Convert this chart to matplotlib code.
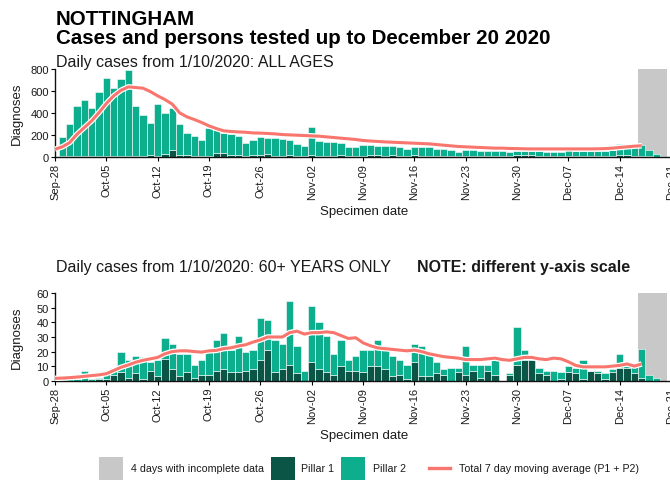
import matplotlib
matplotlib.use("Agg")
import matplotlib.pyplot as plt
import matplotlib.patheffects as pe
from matplotlib.patches import Rectangle
from matplotlib.lines import Line2D
import numpy as np

plt.rcParams['font.family'] = ['Liberation Sans', 'DejaVu Sans']

# ---- data: day index 0 = Sep-28; bars run Sep-29 .. Dec-20 ----
tick_days = [0, 7, 14, 21, 28, 35, 42, 49, 56, 63, 70, 77, 84]
tick_labels = ["Sep-28", "Oct-05", "Oct-12", "Oct-19", "Oct-26", "Nov-02", "Nov-09",
               "Nov-16", "Nov-23", "Nov-30", "Dec-07", "Dec-14", "Dec-21"]

# All ages
pillar1_all = [4, 5, 6, 6, 5, 7, 8, 9, 10, 10, 9, 8, 12, 10, 22, 62, 12, 12, 8, 9,
               10, 38, 32, 12, 12, 10, 12, 18, 22, 10, 10, 14, 8, 4, 16, 10, 9, 7, 12, 9,
               9, 8, 12, 12, 10, 18, 6, 3, 15, 5, 5, 7, 6, 3, 8, 6, 9, 4, 9, 6,
               3, 6, 13, 16, 16, 7, 6, 3, 3, 8, 7, 3, 9, 7, 3, 8, 11, 11, 7, 4,
               2, 1, 0]
pillar2_all = [174, 291, 461, 515, 443, 581, 708, 622, 702, 779, 451, 374, 293, 475, 378, 386,
               290, 208, 182, 146, 256, 210, 185, 199, 181, 116, 138, 164, 153, 159, 147, 136,
               112, 92, 256, 130, 123, 125, 114, 83, 81, 102, 92, 86, 86, 78, 80, 65,
               73, 81, 81, 67, 62, 59, 38, 56, 49, 50, 45, 44, 45, 38, 37, 34,
               34, 43, 40, 43, 43, 82, 43, 47, 45, 47, 53, 52, 109, 107, 81, 101,
               60, 21, 5]
avg7_all = [68, 90, 129, 205, 266, 327, 403, 485, 555, 606, 637, 631, 625, 594, 555, 521,
            479, 400, 363, 339, 312, 281, 257, 236, 230, 226, 223, 217, 215, 212, 208, 202,
            199, 196, 193, 190, 187, 181, 175, 169, 163, 157, 148, 143, 139, 135, 132, 129,
            126, 123, 120, 117, 111, 105, 99, 93, 90, 87, 84, 81, 78, 78, 75, 74,
            72, 71, 71, 71, 71, 71, 71, 71, 71, 71, 72, 74, 78, 84, 90, 96, 100]

# 60+ years only
pillar1_60 = [0, 0, 0, 0, 0, 1, 1, 4, 6, 2, 5, 1, 7, 3, 15, 8, 3, 6, 2, 4,
              4, 7, 8, 6, 6, 7, 8, 14, 21, 6, 8, 11, 5, 0, 13, 8, 6, 4, 10, 7,
              7, 6, 10, 10, 8, 3, 4, 1, 13, 3, 3, 5, 4, 0, 6, 4, 7, 2, 7, 4,
              0, 4, 11, 14, 14, 5, 4, 0, 1, 6, 5, 1, 7, 5, 1, 6, 9, 9, 5, 2,
              0, 0, 0]
pillar2_60 = [1, 1, 1, 7, 1, 1, 6, 5, 14, 12, 12, 15, 6, 11, 14, 17, 15, 12, 9, 10,
              18, 21, 25, 15, 25, 13, 13, 29, 21, 22, 17, 44, 19, 7, 38, 32, 25, 14, 18, 7,
              10, 15, 11, 18, 13, 14, 10, 10, 12, 21, 15, 8, 4, 9, 3, 20, 4, 9, 4, 10,
              0, 1, 26, 7, 2, 4, 3, 7, 5, 4, 4, 13, 0, 2, 4, 2, 9, 1, 6, 20,
              4, 2, 0]
avg7_60 = [1.6, 1.8, 2.1, 2.5, 3, 3.5, 4, 4.8, 7, 9.2, 10.8, 12.7, 14, 15, 16, 18.5,
           20, 20.5, 20.5, 20, 19.6, 20.5, 20.8, 22, 22.6, 23.8, 24.7, 26.5, 28, 30, 30, 30,
           33, 34, 32, 33, 33, 33.5, 33, 31, 29, 29.5, 26, 24, 22.5, 22, 21.5, 21,
           20.5, 21, 20, 18.5, 17.5, 16.5, 16, 15.5, 14.5, 14.5, 14.5, 15, 15.5, 14.5, 14, 15,
           16, 16, 15, 14.5, 15.5, 15, 13, 10.5, 9.5, 9.5, 9.5, 9.5, 10, 10.5, 11.5, 10, 11.5]

incomplete_days = (80, 83)   # Dec-17 .. Dec-20

# ---- styling ----
C_GREY = "#C8C8C8"
C_P1 = "#0A5546"
C_P2 = "#0DAE8D"
C_AVG = "#F8766D"
TXT = "#1A1A1A"

W, H = 670, 485
fig = plt.figure(figsize=(W / 100, H / 100), dpi=100)


def add_axes_px(left, top, right, bottom):
    return fig.add_axes([left / W, 1 - bottom / H, (right - left) / W, (bottom - top) / H])


def draw_panel(ax, p1, p2, avg, ymax, yticks):
    x = np.arange(1, len(p1) + 1)
    ax.axvspan(incomplete_days[0] - 0.5, incomplete_days[1] + 0.5, color=C_GREY, lw=0, zorder=0)
    ax.bar(x, p1, width=1, color=C_P1, edgecolor="white", linewidth=0.4, zorder=2)
    ax.bar(x, p2, bottom=p1, width=1, color=C_P2, edgecolor="white", linewidth=0.4, zorder=2)
    ax.plot(np.arange(len(avg)), avg, color=C_AVG, lw=2.2, zorder=3,
            solid_capstyle="butt",
            path_effects=[pe.Stroke(linewidth=4.0, foreground="white"), pe.Normal()])
    ax.set_xlim(0, 84)
    ax.set_ylim(0, ymax)
    ax.set_yticks(yticks)
    ax.set_xticks(tick_days)
    ax.set_xticklabels(tick_labels, rotation=90, fontsize=8, color=TXT)
    ax.tick_params(axis="y", labelsize=8, labelcolor=TXT, length=3, width=0.8, pad=1.5)
    ax.tick_params(axis="x", length=3, width=0.8, pad=1.5)
    for s in ("top", "right"):
        ax.spines[s].set_visible(False)
    for s in ("left", "bottom"):
        ax.spines[s].set_linewidth(1.0)
        ax.spines[s].set_color("#111111")
    ax.set_facecolor("white")


ax1 = add_axes_px(55, 70, 671, 157.7)
draw_panel(ax1, pillar1_all, pillar2_all, avg7_all, 800, [0, 200, 400, 600, 800])

ax2 = add_axes_px(55, 294.3, 671, 381.7)
draw_panel(ax2, pillar1_60, pillar2_60, avg7_60, 60, [0, 10, 20, 30, 40, 50, 60])

# ---- text ----
fig.text(56 / W, 1 - 25 / H, "NOTTINGHAM", fontsize=14.8, fontweight="bold", color="black", va="baseline")
fig.text(56 / W, 1 - 44.5 / H, "Cases and persons tested up to December 20 2020",
         fontsize=14.8, fontweight="bold", color="black", va="baseline")
fig.text(56 / W, 1 - 67 / H, "Daily cases from 1/10/2020: ALL AGES", fontsize=11.5, color=TXT, va="baseline")
fig.text(56 / W, 1 - 272 / H, "Daily cases from 1/10/2020: 60+ YEARS ONLY", fontsize=11.5, color=TXT, va="baseline")
fig.text(417 / W, 1 - 272 / H, "NOTE: different y-axis scale", fontsize=11.5, fontweight="bold",
         color=TXT, va="baseline")

for yc in (114, 338):
    fig.text(17 / W, 1 - yc / H, "Diagnoses", rotation=90, fontsize=9.5, color=TXT, ha="center", va="center")
for yc in (212, 436):
    fig.text(364 / W, 1 - yc / H, "Specimen date", fontsize=9.5, color=TXT, ha="center", va="center")

# ---- legend ----
ly = 469
sq_w, sq_h = 24, 23
for x0, col in ((99, C_GREY), (271, C_P1), (341, C_P2)):
    fig.add_artist(Rectangle((x0 / W, 1 - (ly + sq_h / 2) / H), sq_w / W, sq_h / H,
                             transform=fig.transFigure, facecolor=col, edgecolor="none"))
fig.add_artist(Line2D([429 / W, 450 / W], [1 - ly / H, 1 - ly / H], transform=fig.transFigure,
                      color=C_AVG, lw=2.4))
for x0, label in ((131, "4 days with incomplete data"), (301, "Pillar 1"), (373, "Pillar 2"),
                  (459, "Total 7 day moving average (P1 + P2)")):
    fig.text(x0 / W, 1 - ly / H, label, fontsize=7.7, color=TXT, va="center")

fig.savefig("out.png", dpi=100, facecolor="white")
